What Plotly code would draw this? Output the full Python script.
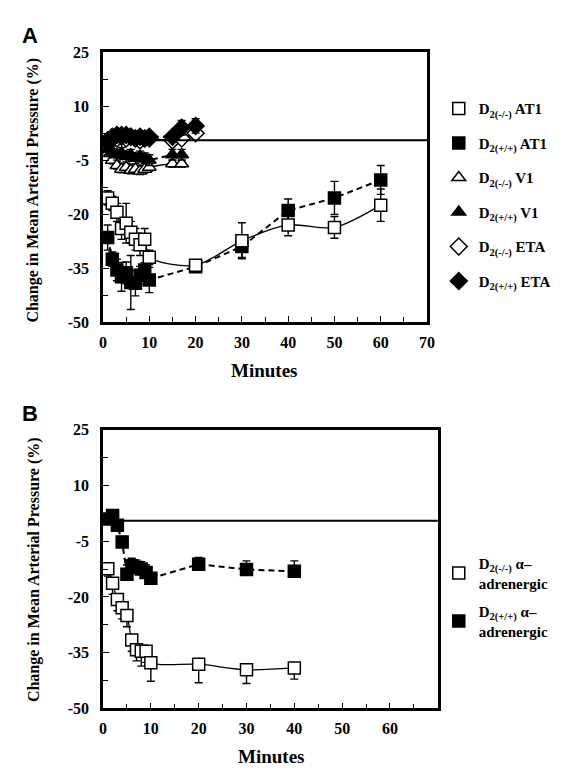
import plotly.graph_objects as go

# ---------------- Panel A data ----------------
t_at1 = [1, 2, 3, 4, 5, 6, 7, 8, 9, 10, 20, 30, 40, 50, 60]
at1_ko = [-15.5, -17, -19.5, -24, -22.5, -25, -27, -28.5, -27, -32, -34.2, -27.4, -23, -23.7, -17.5]
at1_ko_err = [2, 2, 2.5, 3, 5.5, 3, 3, 3, 3, 2, 1.5, 5, 3, 3, 4.5]
at1_wt = [-26.5, -32.5, -35.5, -37.4, -36.3, -39, -39.2, -37, -35.5, -38.3, -34.6, -29, -19, -15.5, -10.5]
at1_wt_err = [3.5, 2, 3, 4, 3, 7.5, 3.5, 2.5, 2, 3.5, 1.5, 3, 3.2, 4.6, 4]

t_v1 = [1, 2, 3, 4, 5, 6, 7, 8, 9, 10, 15, 17]
v1_ko = [-3, -5, -6.5, -7.5, -7, -7.8, -7.5, -8, -7.5, -7, -6, -6]
v1_ko_err = [1, 1, 1, 1, 1, 1, 1, 1, 1, 1, 1, 1]
v1_wt = [-2, -2.5, -3.5, -3, -4, -3.5, -4.5, -4, -4.5, -5, -3.5, -3.5]
v1_wt_err = [1.5, 1.5, 1.5, 1.5, 1.5, 1.5, 1.5, 1.5, 1.5, 1.5, 1.5, 1.5]

t_eta = [1, 2, 3, 4, 5, 6, 7, 8, 9, 10, 15, 17, 20]
eta_ko = [0.5, 1.5, 1, 2, 1, 1.5, 1, 0.5, 1, 1, 0.5, 1, 2.5]
eta_ko_err = [1, 1, 1, 1, 1, 1, 1, 1, 1, 1, 1, 1, 1]
eta_wt = [0, 1, 2, 1.5, 2, 1.5, 1, 1.5, 1, 1.5, 1.5, 4, 4.5]
eta_wt_err = [1, 1, 1, 1, 1, 1, 1, 1, 1, 1, 1, 2, 2]

# ---------------- Panel B data ----------------
t_alpha = [1, 2, 3, 4, 5, 6, 7, 8, 9, 10, 20, 30, 40]
alpha_ko = [-12.4, -16.3, -20.7, -22.9, -25, -31.6, -34.2, -34.6, -34.6, -37.7, -38.1, -39.6, -39.1]
alpha_ko_err = [2, 3, 3, 3, 3, 3, 3, 4, 3, 5, 5, 3.7, 3]
alpha_wt = [1.0, 1.9, -0.7, -5.2, -13.9, -11.6, -12.1, -12.5, -13.4, -15, -11.2, -12.6, -13.1]
alpha_wt_err = [1, 1, 1.5, 1.5, 2.5, 2, 2, 2, 2, 1.5, 1.8, 2.3, 2.8]

x_ticks_a = [0, 10, 20, 30, 40, 50, 60, 70]
x_ticks_b = [0, 10, 20, 30, 40, 50, 60]
y_ticks = [-50, -35, -20, -5, 10, 25]
y_ticktext = ["-50", "-35", "-20", "-5", "10", "25"]

W, H = 567, 774
SERIF = "Liberation Serif"

fig = go.Figure()


def add_series(x, y, err, symbol, filled, name, xa, ya, legend, spline, errplus=None, errminus=None):
    fig.add_trace(go.Scatter(
        x=x, y=y, mode="lines", xaxis=xa, yaxis=ya, showlegend=False, hoverinfo="skip",
        line=dict(color="black", width=1.3 if not filled else 2,
                  dash="solid" if not filled else "6px,4px",
                  shape="spline" if spline else "linear", smoothing=0.8),
    ))
    if errplus is not None:
        ey = dict(type="data", symmetric=False, array=errplus, arrayminus=errminus,
                  color="black", thickness=1.4, width=4)
    else:
        ey = dict(type="data", array=err, color="black", thickness=1.4, width=4)
    fig.add_trace(go.Scatter(
        x=x, y=y, mode="markers", name=name, xaxis=xa, yaxis=ya, legend=legend,
        legendgroup=name,
        error_y=ey,
        marker=dict(symbol=symbol, size=12 if symbol != "diamond" else 13,
                    color="black" if filled else "white",
                    line=dict(color="black", width=1.5)),
    ))


def lab(grp, ag):
    return f"<b>D<sub>2({grp})</sub> {ag}</b>"

# Panel A
add_series(t_eta, eta_ko, eta_ko_err, "diamond", False, lab("-/-", "ETA"), "x", "y", "legend", True)
add_series(t_eta, eta_wt, eta_wt_err, "diamond", True, lab("+/+", "ETA"), "x", "y", "legend", False)
add_series(t_v1, v1_ko, v1_ko_err, "triangle-up", False, lab("-/-", "V1"), "x", "y", "legend", True)
add_series(t_v1, v1_wt, v1_wt_err, "triangle-up", True, lab("+/+", "V1"), "x", "y", "legend", False)
add_series(t_at1, at1_wt, at1_wt_err, "square", True, lab("+/+", "AT1"), "x", "y", "legend", False)
add_series(t_at1, at1_ko, at1_ko_err, "square", False, lab("-/-", "AT1"), "x", "y", "legend", True)

# Panel B
zeros = [0] * len(t_alpha)
add_series(t_alpha, alpha_ko, None, "square", False,
           "<b>D<sub>2(-/-)</sub> α–<br>adrenergic</b>", "x2", "y2", "legend2", True,
           errplus=zeros, errminus=alpha_ko_err)
add_series(t_alpha, alpha_wt, None, "square", True,
           "<b>D<sub>2(+/+)</sub> α–<br>adrenergic</b>", "x2", "y2", "legend2", False,
           errplus=alpha_wt_err, errminus=zeros)

order_a = {lab("-/-", "AT1"): 1, lab("+/+", "AT1"): 2, lab("-/-", "V1"): 3,
           lab("+/+", "V1"): 4, lab("-/-", "ETA"): 5, lab("+/+", "ETA"): 6}
for tr in fig.data:
    if tr.name in order_a:
        tr.legendrank = order_a[tr.name]

tickfont = dict(family=SERIF, size=16, color="black", weight="bold")


def xaxis(domain, tickvals, anchor):
    return dict(domain=domain, range=[0, 70], anchor=anchor, tickvals=tickvals,
                ticks="inside", ticklen=6, tickwidth=1, tickcolor="black",
                minor=dict(dtick=5, tick0=0, ticks="inside", ticklen=5, tickcolor="black"),
                showline=True, linewidth=2.5, linecolor="black", mirror=True,
                showgrid=False, zeroline=False, tickfont=tickfont, ticklabelstandoff=4)


def yaxis(domain, anchor):
    return dict(domain=domain, range=[-50, 25], anchor=anchor, tickvals=y_ticks,
                ticktext=y_ticktext,
                ticks="inside", ticklen=6, tickwidth=1, tickcolor="black",
                minor=dict(dtick=7.5, tick0=-50, ticks="inside", ticklen=5, tickcolor="black"),
                showline=True, linewidth=2.5, linecolor="black", mirror=True,
                showgrid=False, zeroline=False, tickfont=tickfont, ticklabelstandoff=8)


ya_dom = [1 - 313 / H, 1 - 37 / H]
yb_dom = [1 - 708 / H, 1 - 423 / H]
xa_dom = [93 / W, 424 / W]
xb_dom = [93 / W, 435 / W]

legfont = dict(family=SERIF, size=15, color="black")

fig.update_layout(
    width=W, height=H, margin=dict(l=0, r=0, t=0, b=0),
    paper_bgcolor="white", plot_bgcolor="white",
    xaxis=xaxis(xa_dom, x_ticks_a, "y"),
    yaxis=yaxis(ya_dom, "x"),
    xaxis2=xaxis(xb_dom, x_ticks_b, "y2"),
    yaxis2=yaxis(yb_dom, "x2"),
    legend=dict(x=436 / W, y=1 - 78 / H, xanchor="left", yanchor="top",
                font=legfont, bgcolor="rgba(0,0,0,0)", tracegroupgap=12,
                itemclick=False),
    legend2=dict(x=436 / W, y=1 - 543 / H, xanchor="left", yanchor="top",
                 font=legfont, bgcolor="rgba(0,0,0,0)", tracegroupgap=6,
                 itemclick=False),
    showlegend=True,
    shapes=[
        dict(type="line", xref="x domain", yref="y", x0=0, x1=1, y0=0.5, y1=0.5,
             line=dict(color="black", width=2)),
        dict(type="line", xref="x2 domain", yref="y2", x0=0, x1=1, y0=0.5, y1=0.5,
             line=dict(color="black", width=2)),
    ],
    annotations=[
        dict(text="<b>A</b>", x=8 / W, y=1 - 20 / H, xref="paper", yref="paper",
             xanchor="left", yanchor="middle", showarrow=False,
             font=dict(family="Liberation Sans", size=22, color="black")),
        dict(text="<b>B</b>", x=8 / W, y=1 - 406 / H, xref="paper", yref="paper",
             xanchor="left", yanchor="middle", showarrow=False,
             font=dict(family="Liberation Sans", size=22, color="black")),
        dict(text="<b>Change in Mean Arterial Pressure (%)</b>", x=22 / W, y=1 - 178 / H,
             xref="paper", yref="paper", textangle=-90, showarrow=False,
             xanchor="center", yanchor="middle",
             font=dict(family=SERIF, size=16, color="black")),
        dict(text="<b>Change in Mean Arterial Pressure (%)</b>", x=22 / W, y=1 - 566 / H,
             xref="paper", yref="paper", textangle=-90, showarrow=False,
             xanchor="center", yanchor="middle",
             font=dict(family=SERIF, size=16, color="black")),
        dict(text="<b>Minutes</b>", x=258 / W, y=1 - 362 / H, xref="paper", yref="paper",
             showarrow=False, xanchor="center", yanchor="middle",
             font=dict(family=SERIF, size=19, color="black")),
        dict(text="<b>Minutes</b>", x=265 / W, y=1 - 757 / H, xref="paper", yref="paper",
             showarrow=False, xanchor="center", yanchor="middle",
             font=dict(family=SERIF, size=19, color="black")),
    ],
)

fig.write_html("out.html")
